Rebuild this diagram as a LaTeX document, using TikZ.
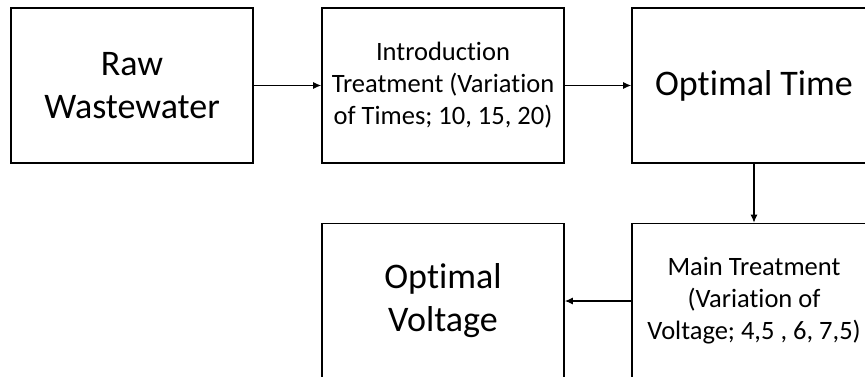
\documentclass[tikz,border=0pt]{standalone}
\usepackage{fontspec}
\setmainfont[Ligatures={NoCommon}]{Carlito}
\usetikzlibrary{arrows.meta}
\begin{document}
\begin{tikzpicture}[x=1pt,y=-1pt,
  box/.style={draw, line width=1.6pt, minimum width=242pt, minimum height=155pt, align=center, inner sep=0pt},
  big/.style={font=\fontsize{36}{43}\selectfont},
  small/.style={font=\fontsize{26.5}{32}\selectfont},
  arr/.style={-{Latex[length=8pt,width=7pt]}, line width=1.2pt}]
\useasboundingbox (0,0) rectangle (865,376);
\node[box,big]   (raw)  at (132,85.5) {Raw\\Wastewater};
\node[box,small] (intro) at (443,85.5) {Introduction\\Treatment (Variation\\of Times; 10, 15, 20)};
\node[box,big,minimum width=244pt] (otime) at (754,85.5) {Optimal Time};
\node[box,small,minimum width=244pt] (main) at (754,301) {Main Treatment\\(Variation of\\Voltage; 4,5 , 6, 7,5)};
\node[box,big] (ovolt) at (443,301) {Optimal\\Voltage};
\draw[arr] (raw.east) -- (intro.west);
\draw[arr] (intro.east) -- (otime.west);
\draw[arr] (otime.south) -- (main.north);
\draw[arr] (main.west) -- (ovolt.east);
\end{tikzpicture}
\end{document}
